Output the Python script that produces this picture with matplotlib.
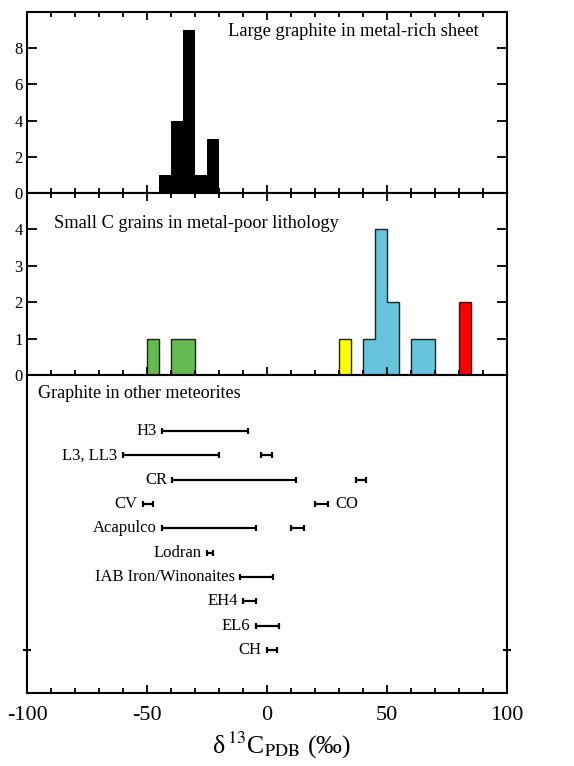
import matplotlib
matplotlib.use("Agg")
import matplotlib.pyplot as plt
import numpy as np

plt.rcParams['font.family'] = ['Liberation Serif', 'DejaVu Serif']
plt.rcParams['mathtext.fontset'] = 'stix'
plt.rcParams['axes.unicode_minus'] = False

# Top panel: large graphite in metal-rich sheet
top_edges = [-45, -40, -35, -30, -25, -20]
top_counts = [1, 4, 9, 1, 3]

# Middle panel: small C grains, one group per colour
green_edges = [-50, -45, -40, -35, -30]
green_counts = [1, 0, 1, 1]
yellow_edges = [30, 35]
yellow_counts = [1]
cyan_edges = [40, 45, 50, 55, 60, 65, 70]
cyan_counts = [1, 4, 2, 0, 1, 1]
red_edges = [80, 85]
red_counts = [2]

# Bottom panel: graphite in other meteorites (ranges)
rows = ["H3", "L3, LL3", "CR", "CV", "Acapulco", "Lodran",
        "IAB Iron/Winonaites", "EH4", "EL6", "CH"]
range_lo = [-43.6, -60.0, -39.4, -51.8, -43.6, -25.0, -11.2, -9.9, -4.6, 0.1]
range_hi = [-8.0, -20.0, 12.2, -47.5, -4.5, -22.5, 2.6, -4.6, 4.9, 4.0]
extra_row = [1, 2, 3, 4]
extra_lo = [-2.5, 37.1, 20.1, 10.0]
extra_hi = [2.0, 41.4, 25.5, 15.3]
extra_label = ["", "", "CO", ""]

fig = plt.figure(figsize=(5.74, 7.66), dpi=100)
L, W = 27 / 574, 480 / 574
ax1 = fig.add_axes([L, 573 / 766, W, 181 / 766])
ax2 = fig.add_axes([L, 391 / 766, W, 182 / 766])
ax3 = fig.add_axes([L, 73 / 766, W, 318 / 766])

for ax in (ax1, ax2, ax3):
    ax.set_xlim(-100, 100)
    ax.set_xticks([-100, -50, 0, 50, 100])
    ax.set_xticks(np.arange(-90, 100, 10), minor=True)
    for s in ax.spines.values():
        s.set_linewidth(1.5)
    ax.tick_params(which='both', direction='in', width=1.3)
    ax.tick_params(which='major', length=6)
    ax.tick_params(which='minor', length=3.5)

# top panel
ax1.stairs(top_counts, top_edges, fill=True, facecolor='black', edgecolor='black')
ax1.set_ylim(0, 10)
ax1.set_yticks([0, 2, 4, 6, 8])
ax1.tick_params(axis='x', which='both', top=True, bottom=True, labelbottom=False)
ax1.tick_params(axis='y', right=True, length=7, labelsize=12, pad=3)
ax1.text(0.418, 0.891, "Large graphite in metal-rich sheet", transform=ax1.transAxes,
         fontsize=13.3, va='center', ha='left')

# middle panel
groups = [(green_edges, green_counts, '#66bb50'),
          (yellow_edges, yellow_counts, '#ffff00'),
          (cyan_edges, cyan_counts, '#66c4dc'),
          (red_edges, red_counts, '#ff0000')]
for edges, counts, col in groups:
    ax2.stairs(counts, edges, fill=True, facecolor=col, edgecolor='#222222', linewidth=1)
ax2.set_ylim(0, 5)
ax2.set_yticks([0, 1, 2, 3, 4])
ax2.tick_params(axis='x', which='both', top=True, bottom=True, labelbottom=False)
ax2.tick_params(axis='y', right=True, length=7, labelsize=12, pad=3)
ax2.text(0.056, 0.834, "Small C grains in metal-poor lithology", transform=ax2.transAxes,
         fontsize=13.2, va='center', ha='left')

# bottom panel
ypos = np.arange(len(rows))
mid = (np.array(range_lo) + np.array(range_hi)) / 2
half = (np.array(range_hi) - np.array(range_lo)) / 2
ax3.errorbar(mid, ypos, xerr=half, fmt='none', ecolor='black', elinewidth=1.6,
             capsize=2.3, capthick=1.6)
emid = (np.array(extra_lo) + np.array(extra_hi)) / 2
ehalf = (np.array(extra_hi) - np.array(extra_lo)) / 2
ax3.errorbar(emid, extra_row, xerr=ehalf, fmt='none', ecolor='black', elinewidth=1.6,
             capsize=2.3, capthick=1.6)
for name, y, lo in zip(rows, ypos, range_lo):
    ax3.annotate(name, (lo, y), xytext=(-4, 0), textcoords='offset points',
                 ha='right', va='center', fontsize=12)
for name, y, hi in zip(extra_label, extra_row, extra_hi):
    if name:
        ax3.annotate(name, (hi, y), xytext=(5.5, 0), textcoords='offset points',
                     ha='left', va='center', fontsize=12)
ax3.set_ylim(len(rows) - 1 + 1.77, -2.3)
ax3.set_yticks([len(rows) - 1])
ax3.tick_params(axis='y', direction='inout', length=6, width=1.5, right=True, labelleft=False)
ax3.tick_params(axis='x', which='both', top=False, bottom=True, labelsize=16, pad=9)
ax3.text(0.0236, 0.943, "Graphite in other meteorites", transform=ax3.transAxes,
         fontsize=13, va='center', ha='left')
ax3.set_xlabel('δ$\\,^{13}$C$_{\\mathrm{PDB}}$ (‰)', fontsize=18.5, labelpad=5)
ax3.xaxis.set_label_coords(0.53, -0.115)
ax3.xaxis.label.set_va('top')

fig.savefig("out.png", dpi=100)
